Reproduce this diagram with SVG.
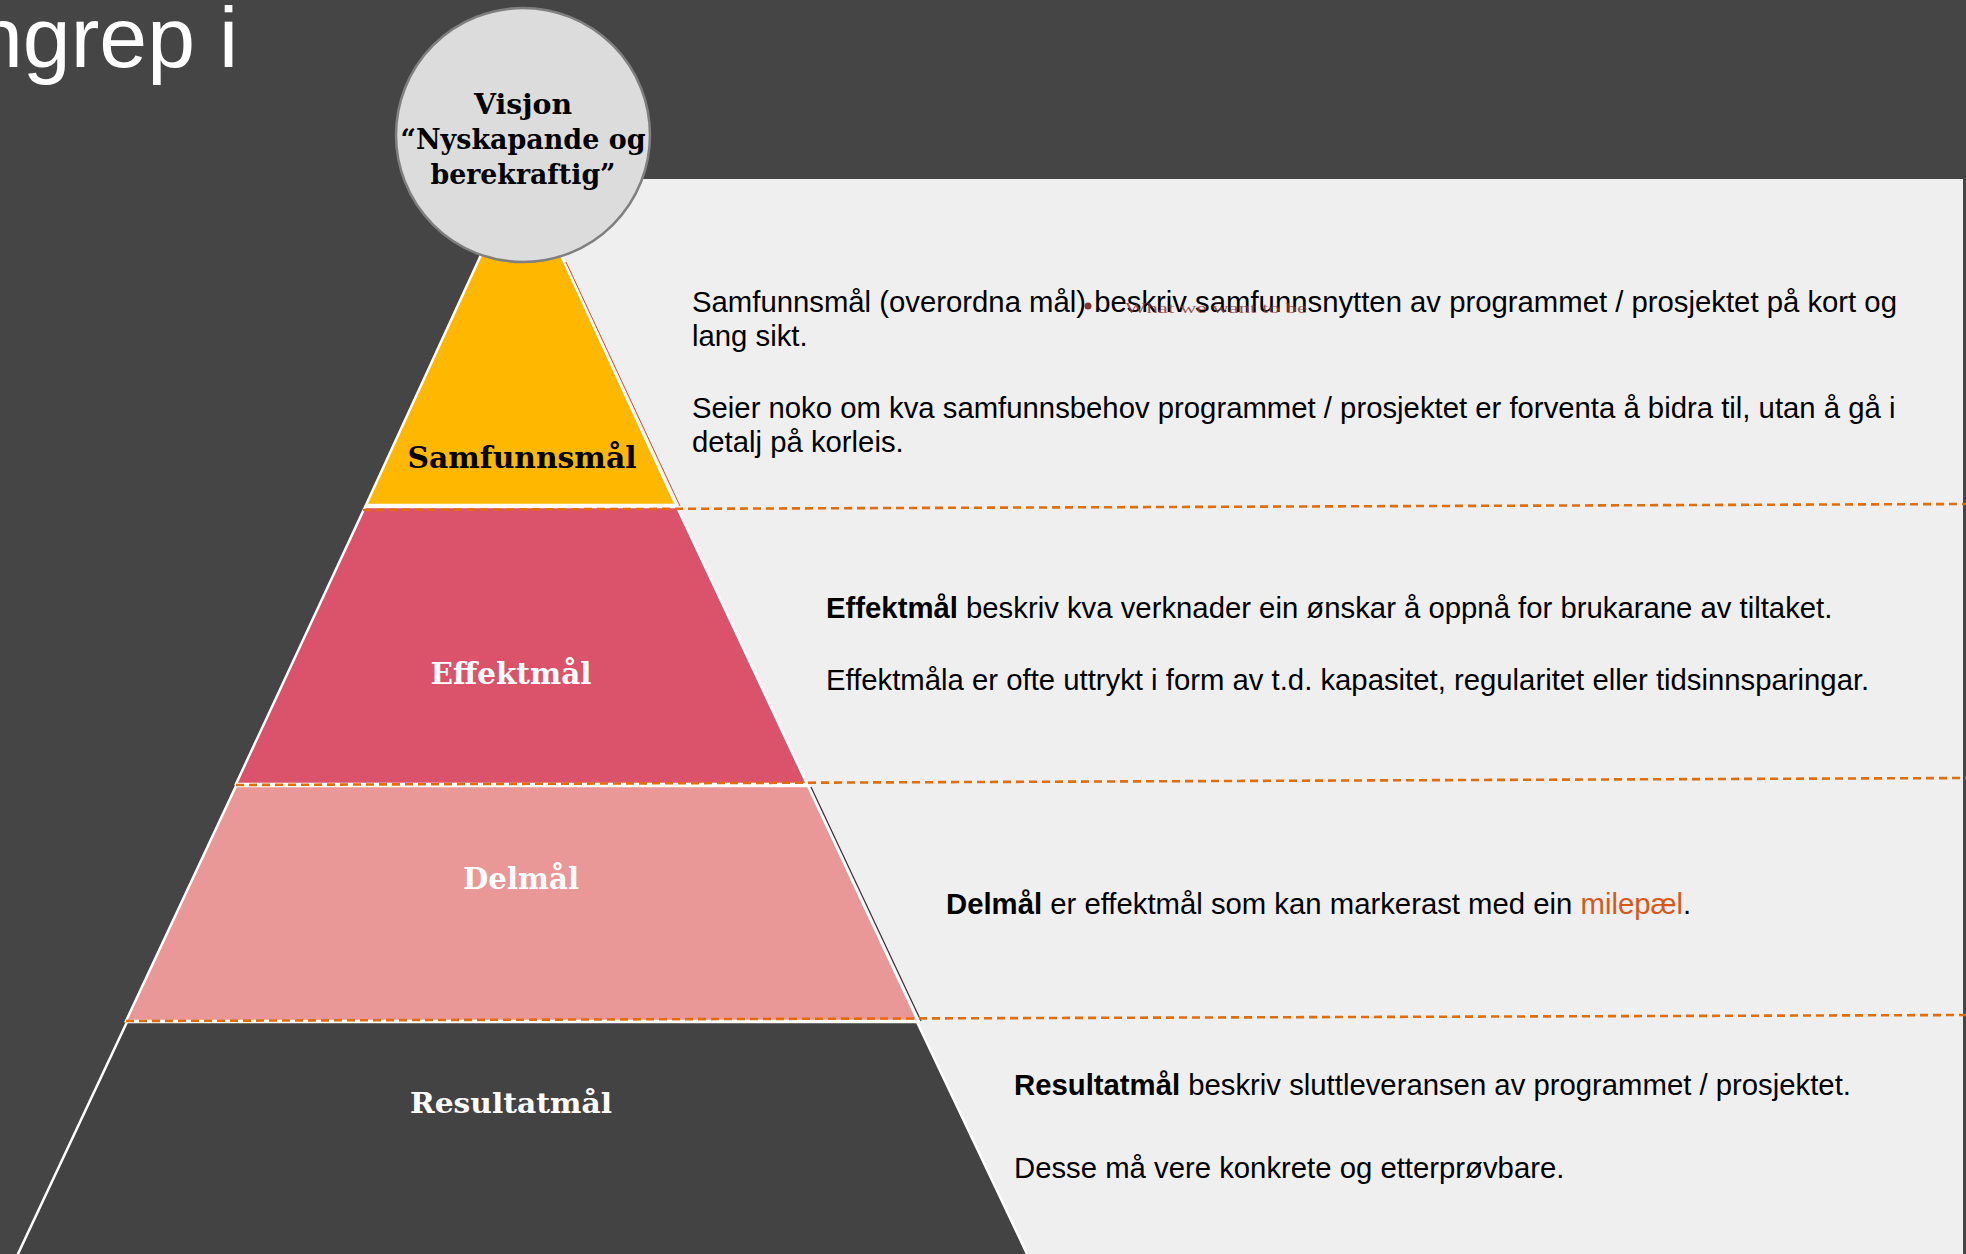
<svg xmlns="http://www.w3.org/2000/svg" width="1966" height="1254" viewBox="0 0 1966 1254">
<style>
.body{font-family:"Liberation Sans",Arial,sans-serif;font-size:29.3px;fill:#000}
.lbl{font-family:"DejaVu Serif","Liberation Serif",serif;font-weight:bold;text-anchor:middle}
.tier{stroke:#fff;stroke-width:2.5;stroke-linejoin:miter}
.dash{stroke:#E46C0A;stroke-width:2.6;stroke-dasharray:8 5;fill:none}
</style>
<rect x="0" y="0" width="1966" height="1254" fill="#454545"/>
<rect id="panel" x="560" y="179" width="1403" height="1075" fill="#EFEFEF"/>
<g id="title"><text x="238" y="67" font-family="Liberation Sans, Arial, sans-serif" font-size="86" fill="#fff" text-anchor="end">ngrep i</text></g>

<g id="resultatmal">
<polygon class="tier" points="127,1022 917,1022 1028,1256 17,1256" fill="#434343"/>
<text class="lbl" x="511" y="1113" font-size="28" fill="#fff" textLength="202" lengthAdjust="spacingAndGlyphs">Resultatmål</text>
</g>
<g id="delmal">
<polygon class="tier" points="236,786 808,786 918,1021 126,1021" fill="#E99797"/>
<line x1="811" y1="787" x2="921" y2="1021" stroke="#333" stroke-width="1.2"/>
<text class="lbl" x="521" y="889" font-size="29" fill="#fff" textLength="116" lengthAdjust="spacingAndGlyphs">Delmål</text>
</g>
<g id="effektmal">
<polygon class="tier" points="365,507 677,507 807,784 236,784" fill="#DB536B"/>
<text class="lbl" x="511" y="684" font-size="29" fill="#fff" textLength="161" lengthAdjust="spacingAndGlyphs">Effektmål</text>
</g>
<g id="samfunnsmal">
<polygon class="tier" points="521,168 676,505 366,505" fill="#FFB700"/>
<line x1="566" y1="262" x2="680" y2="506" stroke="#C0504D" stroke-width="1"/>
<text class="lbl" x="522" y="468" font-size="30" fill="#000" textLength="229" lengthAdjust="spacingAndGlyphs">Samfunnsmål</text>
</g>
<g id="visjon">
<circle cx="523" cy="135" r="127" fill="#DCDCDC" stroke="#7F7F7F" stroke-width="2.5"/>
<text class="lbl" x="523" y="114" font-size="27" fill="#000" textLength="98" lengthAdjust="spacingAndGlyphs">Visjon</text>
<text class="lbl" x="523" y="149" font-size="27" fill="#000" textLength="245" lengthAdjust="spacingAndGlyphs">“Nyskapande og</text>
<text class="lbl" x="523" y="184" font-size="27" fill="#000" textLength="185" lengthAdjust="spacingAndGlyphs">berekraftig”</text>
</g>

<g id="connectors">
<line class="dash" x1="363" y1="510" x2="1966" y2="504"/>
<line class="dash" x1="236" y1="785" x2="1966" y2="778"/>
<line class="dash" x1="126" y1="1021" x2="1966" y2="1015"/>
</g>

<g id="desc-samfunnsmal">
<text class="body" x="692" y="312">Samfunnsmål (overordna mål) beskriv samfunnsnytten av programmet / prosjektet på kort og</text>
<text class="body" x="692" y="346">lang sikt.</text>
<text class="body" x="692" y="418">Seier noko om kva samfunnsbehov programmet / prosjektet er forventa å bidra til, utan å gå i</text>
<text class="body" x="692" y="452">detalj på korleis.</text>
<circle cx="1088" cy="306" r="3.5" fill="#8B2E2E"/>
<text x="1125" y="313" font-family="Liberation Serif, serif" font-size="15" fill="#8B3A3A" fill-opacity="0.85" textLength="182" lengthAdjust="spacingAndGlyphs">What we want to be</text>
</g>
<g id="desc-effektmal">
<text class="body" x="826" y="618"><tspan font-weight="bold">Effektmål</tspan> beskriv kva verknader ein ønskar å oppnå for brukarane av tiltaket.</text>
<text class="body" x="826" y="690">Effektmåla er ofte uttrykt i form av t.d. kapasitet, regularitet eller tidsinnsparingar.</text>
</g>
<g id="desc-delmal">
<text class="body" x="946" y="914"><tspan font-weight="bold">Delmål</tspan> er effektmål som kan markerast med ein <tspan fill="#D8581A">milepæl</tspan>.</text>
</g>
<g id="desc-resultatmal">
<text class="body" x="1014" y="1095"><tspan font-weight="bold">Resultatmål</tspan> beskriv sluttleveransen av programmet / prosjektet.</text>
<text class="body" x="1014" y="1178">Desse må vere konkrete og etterprøvbare.</text>
</g>
</svg>
